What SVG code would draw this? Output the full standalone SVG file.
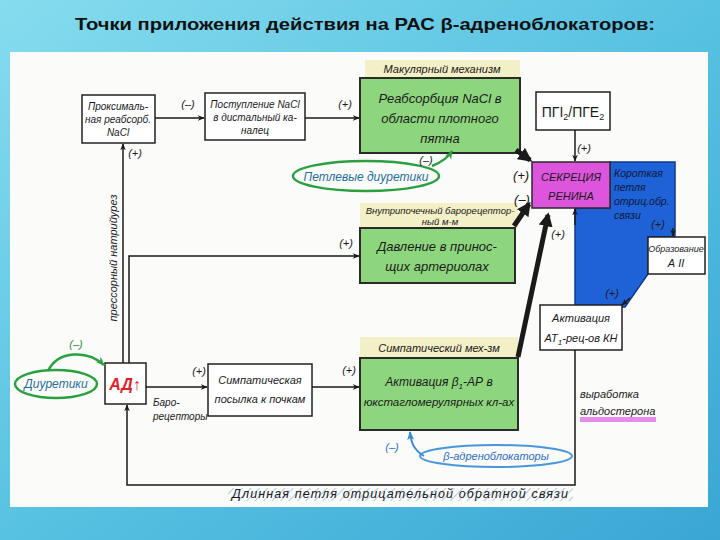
<svg xmlns="http://www.w3.org/2000/svg" width="720" height="540" viewBox="0 0 720 540">
<defs>
<linearGradient id="bg" x1="0" y1="0" x2="1" y2="1">
<stop offset="0" stop-color="#86dcee"/>
<stop offset="0.5" stop-color="#58c2e2"/>
<stop offset="1" stop-color="#3aa6d4"/>
</linearGradient>
<marker id="ah" viewBox="0 0 10 10" refX="9" refY="5" markerWidth="7" markerHeight="7" orient="auto-start-reverse" markerUnits="userSpaceOnUse">
<path d="M0,1 L10,5 L0,9 L3,5 z" fill="#1a1a1a"/>
</marker>
<marker id="ahT" viewBox="0 0 10 10" refX="8" refY="5" markerWidth="14" markerHeight="14" orient="auto" markerUnits="userSpaceOnUse">
<path d="M0,0 L10,5 L0,10 z" fill="#1a1a1a"/>
</marker>
<marker id="ahG" viewBox="0 0 10 10" refX="9" refY="5" markerWidth="9" markerHeight="9" orient="auto" markerUnits="userSpaceOnUse">
<path d="M0,1 L10,5 L0,9 L3,5 z" fill="#2aa040"/>
</marker>
<marker id="ahB" viewBox="0 0 10 10" refX="9" refY="5" markerWidth="9" markerHeight="9" orient="auto" markerUnits="userSpaceOnUse">
<path d="M0,1 L10,5 L0,9 L3,5 z" fill="#3a8ad8"/>
</marker>
<pattern id="hatch" width="6" height="6" patternUnits="userSpaceOnUse" patternTransform="rotate(45)">
<line x1="0" y1="0" x2="0" y2="6" stroke="#7aaee0" stroke-width="1.5"/>
</pattern>
</defs>
<style>
.box{fill:#ffffff;stroke:#222;stroke-width:1.5}
.gbox{fill:#8ed67e;stroke:#2b2b2b;stroke-width:2}
.hdr{fill:#f3efc6}
.hw{font-family:"Liberation Sans",sans-serif;font-style:italic;font-size:11px;fill:#1a1a1a}
.big{font-size:13px}
.sm{font-size:9.5px}
.s10{font-size:10px}
.s9{font-size:9px}
.bl{font-size:10.5px;fill:#0c1a3a}
.ln{stroke:#1a1a1a;stroke-width:1.5;fill:none}
.thick{stroke:#1a1a1a;stroke-width:5;fill:none}
.lab{font-family:"Liberation Sans",sans-serif;font-style:italic;font-size:11px;fill:#1a1a1a}
.lab13{font-size:13px}
.gell{fill:none;stroke:#2aa040;stroke-width:2.5}
.gtxt{font-family:"Liberation Sans",sans-serif;font-style:italic;font-size:12px;fill:#1f6e9a}
</style>
<rect x="0" y="0" width="720" height="540" fill="url(#bg)"/>
<rect x="10" y="52" width="698" height="455" fill="#fbfbfa"/>
<text x="365" y="30" text-anchor="middle" font-family="'Liberation Sans',sans-serif" font-weight="bold" font-size="17" fill="#111" textLength="580" lengthAdjust="spacingAndGlyphs">Точки приложения действия на РАС β-адреноблокаторов:</text>

<g id="blue-loop">
<polygon points="610,162 675,162 675,237 648,237 648,274 625,307 575,307 575,208 610,208" fill="#1f62d8" stroke="#123a8a" stroke-width="1.5"/>
<text class="hw bl" x="614" y="177">Короткая</text>
<text class="hw bl" x="614" y="191">петля</text>
<text class="hw bl" x="614" y="205">отриц.обр.</text>
<text class="hw bl" x="614" y="219">связи</text>
</g>

<g id="proximal">
<rect class="box" x="82" y="95" width="73" height="48"/>
<text class="hw s10" x="118" y="110" text-anchor="middle">Проксималь-</text>
<text class="hw s10" x="118" y="123" text-anchor="middle">ная реабсорб.</text>
<text class="hw s10" x="118" y="136" text-anchor="middle">NaCl</text>
</g>
<g id="distal">
<rect class="box" x="205" y="93" width="100" height="47"/>
<text class="hw s10" x="255" y="108" text-anchor="middle">Поступление NaCl</text>
<text class="hw s10" x="255" y="121" text-anchor="middle">в дистальный ка-</text>
<text class="hw s10" x="255" y="134" text-anchor="middle">налец</text>
</g>
<g id="macula">
<rect class="hdr" x="365" y="60" width="155" height="18"/>
<text class="hw" x="442" y="73" text-anchor="middle">Макулярный механизм</text>
<rect class="gbox" x="360" y="78" width="160" height="75"/>
<text class="hw big" x="440" y="103" text-anchor="middle">Реабсорбция NaCl в</text>
<text class="hw big" x="440" y="123" text-anchor="middle">области плотного</text>
<text class="hw big" x="440" y="143" text-anchor="middle">пятна</text>
</g>
<g id="pg">
<rect class="box" x="536" y="92" width="74" height="38"/>
<text class="hw" style="font-size:14px;font-style:normal" x="573" y="117" text-anchor="middle">ПГI<tspan style="font-size:9px" dy="3">2</tspan><tspan dy="-3">/ПГE</tspan><tspan style="font-size:9px" dy="3">2</tspan></text>
</g>
<g id="renin">
<rect x="532" y="162" width="78" height="46" fill="#dd55dd" stroke="#2a2a2a" stroke-width="1.5"/>
<text class="hw" x="571" y="181" text-anchor="middle">СЕКРЕЦИЯ</text>
<text class="hw" x="571" y="200" text-anchor="middle">РЕНИНА</text>
</g>
<g id="angII">
<rect class="box" x="648" y="237" width="57" height="37"/>
<text class="hw s9" x="676" y="252" text-anchor="middle">Образование</text>
<text class="hw" x="676" y="267" text-anchor="middle">А II</text>
</g>
<g id="at1">
<rect class="box" x="540" y="305" width="82" height="45"/>
<text class="hw" x="581" y="322" text-anchor="middle">Активация</text>
<text class="hw" x="581" y="342" text-anchor="middle">AT<tspan style="font-size:8px" dy="3">1</tspan><tspan dy="-3">-рец-ов КН</tspan></text>
</g>
<g id="baro">
<rect class="hdr" x="360" y="203" width="158" height="25"/>
<text class="hw sm" x="440" y="214" text-anchor="middle">Внутрипочечный барорецептор-</text>
<text class="hw sm" x="440" y="225" text-anchor="middle">ный м-м</text>
<rect class="gbox" x="360" y="228" width="155" height="55"/>
<text class="hw big" x="437" y="251" text-anchor="middle">Давление в принос-</text>
<text class="hw big" x="437" y="271" text-anchor="middle">щих артериолах</text>
</g>
<g id="symp-mech">
<rect class="hdr" x="360" y="337" width="158" height="21"/>
<text class="hw" x="439" y="352" text-anchor="middle">Симпатический мех-зм</text>
<rect class="gbox" x="360" y="358" width="158" height="72"/>
<text class="hw" style="font-size:12px" x="439" y="386" text-anchor="middle">Активация β<tspan style="font-size:8px" dy="3">1</tspan><tspan dy="-3">-АР в</tspan></text>
<text class="hw" style="font-size:11.5px" x="439" y="406" text-anchor="middle">юкстагломерулярных кл-ах</text>
</g>
<g id="symp">
<rect class="box" x="208" y="364" width="104" height="52"/>
<text class="hw" x="260" y="384" text-anchor="middle">Симпатическая</text>
<text class="hw" x="260" y="403" text-anchor="middle">посылка к почкам</text>
</g>
<g id="ad">
<rect class="box" x="105" y="363" width="41" height="41"/>
<text x="125" y="390" text-anchor="middle" font-family="'Liberation Sans',sans-serif" font-weight="bold" font-style="italic" font-size="16" fill="#e0202a">АД↑</text>
</g>
<g id="diuretics">
<ellipse class="gell" cx="56" cy="384" rx="41" ry="14"/>
<text class="gtxt" x="56" y="388" text-anchor="middle">Диуретики</text>
</g>
<g id="loop-diuretics">
<ellipse class="gell" cx="366" cy="176" rx="73" ry="15"/>
<text class="gtxt" x="366" y="181" text-anchor="middle">Петлевые диуретики</text>
</g>
<g id="beta-blockers">
<ellipse cx="496" cy="456" rx="76" ry="11" fill="none" stroke="#4a96dc" stroke-width="2"/>
<text class="gtxt" style="font-size:11px;fill:#2a6fc8" x="496" y="460" text-anchor="middle">β-адреноблокаторы</text>
</g>

<g id="connectors">
<line class="ln" x1="155" y1="118" x2="204" y2="118" marker-end="url(#ah)"/>
<line class="ln" x1="305" y1="118" x2="359" y2="118" marker-end="url(#ah)"/>
<line class="ln" x1="575" y1="130" x2="575" y2="161" marker-end="url(#ah)"/>
<line class="thick" x1="516" y1="150" x2="530" y2="160" marker-end="url(#ahT)"/>
<line class="thick" x1="514" y1="226" x2="529" y2="204" marker-end="url(#ahT)"/>
<line class="thick" x1="518" y1="357" x2="548" y2="215" marker-end="url(#ahT)"/>
<line class="ln" x1="575" y1="225" x2="575" y2="209" marker-end="url(#ah)"/>
<line class="ln" x1="673" y1="228" x2="673" y2="236" marker-end="url(#ah)"/>
<line class="ln" x1="630" y1="298" x2="622" y2="305" marker-end="url(#ah)"/>
<line class="ln" x1="123" y1="363" x2="123" y2="144" marker-end="url(#ah)"/>
<polyline class="ln" points="129,363 129,256 359,256" marker-end="url(#ah)"/>
<line class="ln" x1="146" y1="387" x2="207" y2="387" marker-end="url(#ah)"/>
<line class="ln" x1="312" y1="387" x2="359" y2="387" marker-end="url(#ah)"/>
<polyline class="ln" points="575,350 575,485 127,485 127,405" marker-end="url(#ah)"/>
<path d="M432,166 C442,162 448,158 452,151" fill="none" stroke="#2aa040" stroke-width="2.5" marker-end="url(#ahG)"/>
<path d="M48,371 C58,350 88,350 104,365" fill="none" stroke="#2aa040" stroke-width="2.5" marker-end="url(#ahG)"/>
<path d="M424,456 C414,450 411,443 410,432" fill="none" stroke="#3a8ad8" stroke-width="2" marker-end="url(#ahB)"/>
</g>

<g id="labels">
<text class="lab" x="188" y="108" text-anchor="middle">(–)</text>
<text class="lab" x="345" y="108" text-anchor="middle">(+)</text>
<text class="lab" x="135" y="157" text-anchor="middle">(+)</text>
<text class="lab" x="426" y="164" text-anchor="middle">(–)</text>
<text class="lab" x="584" y="152" text-anchor="middle">(+)</text>
<text class="lab lab13" x="521" y="180" text-anchor="middle">(+)</text>
<text class="lab lab13" x="522" y="204" text-anchor="middle">(–)</text>
<text class="lab" x="558" y="238" text-anchor="middle">(+)</text>
<text class="lab" x="658" y="228" text-anchor="middle">(+)</text>
<text class="lab" x="612" y="297" text-anchor="middle">(+)</text>
<text class="lab" x="346" y="247" text-anchor="middle">(+)</text>
<text class="lab" style="fill:#2a8a40" x="76" y="348" text-anchor="middle">(–)</text>
<text class="lab" x="199" y="375" text-anchor="middle">(+)</text>
<text class="lab" x="349" y="374" text-anchor="middle">(+)</text>
<text class="lab" style="fill:#2a6fc8" x="392" y="451" text-anchor="middle">(–)</text>
<text class="hw s10" x="153" y="406">Баро-</text>
<text class="hw s10" x="153" y="420">рецепторы</text>
<text class="hw" x="0" y="0" text-anchor="middle" transform="translate(117,258) rotate(-90)">прессорный натрийурез</text>
<rect x="580" y="417" width="76" height="5" fill="#e070e8" opacity="0.8"/>
<text class="hw" x="580" y="398">выработка</text>
<text class="hw" x="580" y="415">альдостерона</text>
<rect x="228" y="488" width="345" height="13" fill="url(#hatch)" opacity="0.8"/>
<text class="hw" style="font-size:12.5px" x="232" y="498" textLength="336" lengthAdjust="spacing">Длинная петля  отрицательной обратной связи</text>
</g>
</svg>
